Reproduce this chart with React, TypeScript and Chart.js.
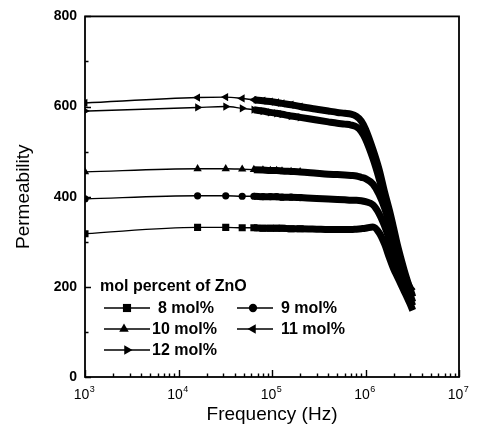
import React, { useEffect, useRef } from "react";
import { Chart, registerables } from "chart.js";

Chart.register(...registerables);

// ---------- data ----------
const frequencies = [
  1e3, 1.6e4, 3.2e4, 4.8e4, 6.4e4, 8e4, 9.6e4, 1.12e5, 1.28e5, 1.6e5, 2e5,
  3e5, 4e5, 5e5, 6e5, 7e5, 8e5, 9e5, 1e6, 1.2e6, 1.4e6, 1.6e6, 1.8e6, 2e6,
  2.2e6, 2.4e6, 2.6e6, 2.8e6, 3e6, 3.2e6,
];

const mol8 = [318, 332, 332, 331, 331, 330, 330, 330, 330, 329, 329, 328, 327, 327, 327, 327, 328, 329, 330, 333, 320, 295, 265, 240, 222, 205, 190, 176, 162, 148];
const mol9 = [395, 402, 402, 401, 401, 400, 400, 400, 399, 399, 398, 396, 395, 394, 393, 392, 392, 391, 389, 382, 362, 335, 305, 275, 246, 225, 205, 188, 172, 158];
const mol10 = [455, 462, 462, 461, 460, 459, 458, 458, 457, 456, 455, 452, 450, 449, 448, 447, 446, 443, 440, 428, 405, 375, 340, 300, 268, 242, 220, 200, 182, 166];
const mol11 = [608, 620, 621, 618, 615, 613, 611, 609, 607, 604, 600, 594, 590, 587, 585, 583, 578, 568, 550, 505, 460, 410, 370, 330, 292, 262, 236, 214, 195, 178];
const mol12 = [590, 598, 600, 596, 593, 590, 587, 585, 583, 579, 576, 570, 566, 563, 561, 559, 555, 545, 528, 485, 440, 395, 355, 316, 282, 254, 230, 210, 198, 190];

const seriesLabels = ["8 mol%", "9 mol%", "10 mol%", "11 mol%", "12 mol%"];
const seriesValues = [mol8, mol9, mol10, mol11, mol12];

const yTicks = [0, 200, 400, 600, 800];
const yMinorTicks = [100, 300, 500, 700];
const xDecadeExponents = [3, 4, 5, 6, 7];
const xTickBase = "10";
const legendTitle = "mol percent of ZnO";
const xTitle = "Frequency (Hz)";
const yTitle = "Permeability";

// ---------- styles ----------
const FONT = "'Liberation Sans', Arial, Helvetica, sans-serif";
type Marker = { style: string; rotation: number; radius: number };
const markers: Marker[] = [
  { style: "rect", rotation: 0, radius: 5 },
  { style: "circle", rotation: 0, radius: 3.6 },
  { style: "triangle", rotation: 0, radius: 4.8 },
  { style: "triangle", rotation: -90, radius: 4.8 },
  { style: "triangle", rotation: 90, radius: 4.8 },
];

function drawMarker(ctx: CanvasRenderingContext2D, m: Marker, x: number, y: number, scale: number) {
  const r = m.radius * scale;
  ctx.beginPath();
  if (m.style === "rect") {
    const s = r * Math.SQRT1_2;
    ctx.rect(x - s, y - s, 2 * s, 2 * s);
  } else if (m.style === "circle") {
    ctx.arc(x, y, r, 0, Math.PI * 2);
  } else {
    let rad = (m.rotation * Math.PI) / 180;
    for (let k = 0; k < 3; k++) {
      const px = x + Math.sin(rad) * r;
      const py = y - Math.cos(rad) * r;
      if (k === 0) ctx.moveTo(px, py);
      else ctx.lineTo(px, py);
      rad += (2 * Math.PI) / 3;
    }
    ctx.closePath();
  }
  ctx.fill();
}

const framePlugin = {
  id: "frameTicksLegend",
  afterDatasetsDraw(chart: any) {
    const { ctx, chartArea } = chart;
    const { left, right, top, bottom } = chartArea;
    const x = chart.scales.x;
    const y = chart.scales.y;
    ctx.save();
    ctx.strokeStyle = "#000";
    ctx.fillStyle = "#000";
    ctx.lineWidth = 1.8;
    ctx.strokeRect(left, top, right - left, bottom - top);

    // y ticks (inward)
    ctx.lineWidth = 1.4;
    ctx.beginPath();
    for (const v of yTicks) {
      const py = Math.round(y.getPixelForValue(v)) + 0.5;
      ctx.moveTo(left, py);
      ctx.lineTo(left + 6, py);
    }
    for (const v of yMinorTicks) {
      const py = Math.round(y.getPixelForValue(v)) + 0.5;
      ctx.moveTo(left, py);
      ctx.lineTo(left + 3.5, py);
    }
    // x ticks (inward)
    for (const e of xDecadeExponents) {
      const px = Math.round(x.getPixelForValue(Math.pow(10, e))) + 0.5;
      ctx.moveTo(px, bottom);
      ctx.lineTo(px, bottom - 7);
      if (e < xDecadeExponents[xDecadeExponents.length - 1]) {
        for (let m = 2; m <= 9; m++) {
          const pm = Math.round(x.getPixelForValue(m * Math.pow(10, e))) + 0.5;
          ctx.moveTo(pm, bottom);
          ctx.lineTo(pm, bottom - 3.5);
        }
      }
    }
    ctx.stroke();

    // x tick labels 10^n
    for (const e of xDecadeExponents) {
      const px = x.getPixelForValue(Math.pow(10, e));
      ctx.font = `14px ${FONT}`;
      const w1 = ctx.measureText(xTickBase).width;
      ctx.font = `9px ${FONT}`;
      const expText = String(e);
      const w2 = ctx.measureText(expText).width;
      const x0 = px - (w1 + w2) / 2 - 1;
      ctx.textAlign = "left";
      ctx.textBaseline = "alphabetic";
      ctx.font = `14px ${FONT}`;
      ctx.fillText(xTickBase, x0, bottom + 22);
      ctx.font = `9px ${FONT}`;
      ctx.fillText(expText, x0 + w1 + 0.5, bottom + 15);
    }

    // legend
    ctx.font = `bold 16px ${FONT}`;
    ctx.textAlign = "left";
    ctx.textBaseline = "middle";
    ctx.fillText(legendTitle, left + 15, bottom - 90);
    const rows = [bottom - 69, bottom - 48, bottom - 27];
    const entries = [
      { i: 0, row: 0, lx0: left + 19, lx1: left + 65, mx: left + 42, tx: left + 73 },
      { i: 1, row: 0, lx0: left + 152, lx1: left + 188, mx: left + 168, tx: left + 196 },
      { i: 2, row: 1, lx0: left + 19, lx1: left + 65, mx: left + 39, tx: left + 67 },
      { i: 3, row: 1, lx0: left + 152, lx1: left + 188, mx: left + 168, tx: left + 196 },
      { i: 4, row: 2, lx0: left + 19, lx1: left + 65, mx: left + 42, tx: left + 67 },
    ];
    ctx.lineWidth = 1.4;
    for (const en of entries) {
      const yy = rows[en.row];
      ctx.beginPath();
      ctx.moveTo(en.lx0, yy);
      ctx.lineTo(en.lx1, yy);
      ctx.stroke();
      drawMarker(ctx, markers[en.i], en.mx, yy, 1.15);
      ctx.fillText(seriesLabels[en.i], en.tx, yy + 1);
    }
    ctx.restore();
  },
};

export default function App() {
  const ref = useRef<HTMLCanvasElement>(null);
  useEffect(() => {
    document.body.style.margin = "0";
    const canvas = ref.current!;
    const datasets = seriesValues.map((vals, si) => {
      const m = markers[si];
      return {
        label: seriesLabels[si],
        data: frequencies.map((f, i) => ({ x: f, y: vals[i] })),
        borderColor: "#000",
        backgroundColor: "#000",
        borderWidth: 1.4,
        borderCapStyle: "butt",
        cubicInterpolationMode: "monotone",
        pointStyle: m.style,
        pointRotation: m.rotation,
        pointBorderWidth: 0,
        pointRadius: (c: any) => (c.dataIndex <= 10 ? m.radius : 0),
        pointHoverRadius: 0,
        segment: {
          borderWidth: (c: any) => (c.p0DataIndex >= 4 ? 7 : 1.4),
        },
      };
    });
    const chart = new Chart(canvas, {
      type: "line",
      data: { datasets: datasets as any },
      options: {
        responsive: false,
        animation: false,
        devicePixelRatio: 1,
        events: [],
        layout: { padding: { left: 0, top: 13, right: 20, bottom: 0 } },
        plugins: { legend: { display: false }, tooltip: { enabled: false } },
        scales: {
          x: {
            type: "logarithmic",
            min: 1e3,
            max: 1e7,
            grid: { display: false, drawTicks: false },
            border: { display: false },
            ticks: { display: false },
            title: {
              display: true,
              text: xTitle,
              color: "#000",
              font: { family: FONT, size: 19 },
              padding: { top: 0, bottom: 18 },
            },
            afterFit: (s: any) => {
              s.height = 67;
            },
          },
          y: {
            type: "linear",
            min: 0,
            max: 800,
            afterBuildTicks: (s: any) => {
              s.ticks = yTicks.map((v) => ({ value: v }));
            },
            grid: { display: false, drawTicks: false },
            border: { display: false },
            ticks: {
              color: "#000",
              font: { family: FONT, size: 14, weight: "bold" },
              padding: 8,
            },
            title: {
              display: true,
              text: yTitle,
              color: "#000",
              font: { family: FONT, size: 19 },
              padding: { top: 12, bottom: 0 },
            },
            afterFit: (s: any) => {
              s.width = 85;
            },
          },
        },
      },
      plugins: [framePlugin],
    });
    return () => chart.destroy();
  }, []);
  return <canvas ref={ref} width={479} height={444} style={{ display: "block" }} />;
}
